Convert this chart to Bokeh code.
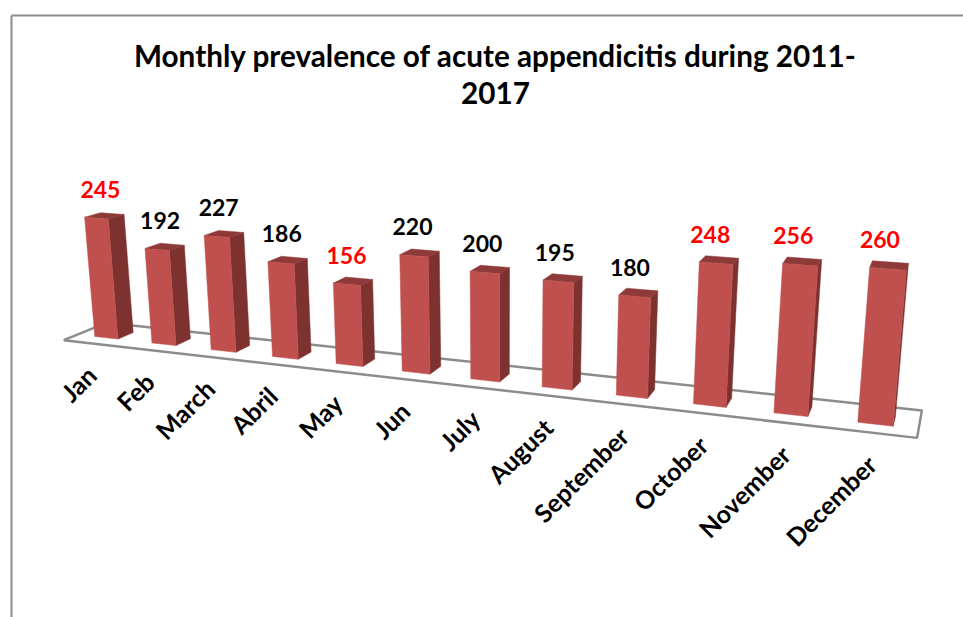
import numpy as np
from bokeh.plotting import figure
from bokeh.models import Range1d
from bokeh.core.properties import value
from bokeh.embed import file_html
from bokeh.resources import INLINE

title_lines = ["Monthly prevalence of acute appendicitis during 2011-", "2017"]
months = ["Jan", "Feb", "March", "Abril", "May", "Jun", "July", "August",
          "September", "October", "November", "December"]
counts = [245, 192, 227, 186, 156, 220, 200, 195, 180, 248, 256, 260]
red_months = ["Jan", "May", "October", "November", "December"]

# camera of the pseudo-3D chart: (category, value, depth) -> page pixels
CAM = np.array([[54.53, -0.05, 17.4, 94.3],
                [0.495, -0.5086, -0.696, 336.0],
                [-0.0173, -1e-4, 0.0174, 1.0]])

def pr(x, y, z):
    h = CAM @ np.array([x, y, z, 1.0])
    return h[0] / h[2], h[1] / h[2]

BAR = 0.41
FRONT = "#C0504D"
SIDE = "#7D3230"
TOP = "#8E3A38"
GREY = "#8C8C8C"
FONT = "Lato"

p = figure(width=963, height=617, x_range=Range1d(0, 963), y_range=Range1d(617, 0),
           x_axis_type=None, y_axis_type=None, toolbar_location=None,
           output_backend="svg", min_border=0, outline_line_color=None,
           background_fill_color="white", border_fill_color="white")
p.grid.visible = False

# chart frame
p.line([11, 11], [617, 15], line_color=GREY, line_width=2)
p.line([11, 963], [15, 15], line_color=GREY, line_width=2)

# floor
fx0, fx1, fz0, fz1 = -0.31, 11.70, -0.85, 1.9
corners = [pr(fx0, 0, fz0), pr(fx1, 0, fz0), pr(fx1, 0, fz1), pr(fx0, 0, fz1), pr(fx0, 0, fz0)]
p.line([c[0] for c in corners], [c[1] for c in corners], line_color=GREY, line_width=2.5)

# bars
def face(pts):
    return [q[0] for q in pts], [q[1] for q in pts]

fronts, sides, tops = ([], []), ([], []), ([], [])
for i, v in enumerate(counts):
    l, r = i, i + BAR
    for store, pts in (
        (sides, [pr(r, v, 0), pr(r, v, 1), pr(r, 0, 1), pr(r, 0, 0)]),
        (tops, [pr(l, v, 0), pr(r, v, 0), pr(r, v, 1), pr(l, v, 1)]),
        (fronts, [pr(l, v, 0), pr(r, v, 0), pr(r, 0, 0), pr(l, 0, 0)]),
    ):
        xs, ys = face(pts)
        store[0].append(xs)
        store[1].append(ys)

p.patches(sides[0], sides[1], fill_color=SIDE, line_color=SIDE, line_width=0.5)
p.patches(tops[0], tops[1], fill_color=TOP, line_color=TOP, line_width=0.5)
p.patches(fronts[0], fronts[1], fill_color=FRONT, line_color=FRONT, line_width=0.5)

# value labels
lab_x, lab_y, lab_t, lab_c = [], [], [], []
for i, (m, v) in enumerate(zip(months, counts)):
    x, y = pr(i + BAR / 2, v, 0)
    lab_x.append(x + 4 - 1.09 * i)
    lab_y.append(y - 29)
    lab_t.append(str(v))
    lab_c.append("#FF0000" if m in red_months else "#000000")
p.text(lab_x, lab_y, text=lab_t, text_color=lab_c, text_font=value(FONT), text_font_style="bold",
       text_font_size="23px", text_align="center", text_baseline="middle")

# category labels
cat_x, cat_y = [], []
for i in range(len(months)):
    x, y = pr(i + BAR / 2, 0, fz0)
    cat_x.append(x - 1.5)
    cat_y.append(y + 27)
p.text(cat_x, cat_y, text=months, angle=45, angle_units="deg", text_color="#000000",
       text_font=value(FONT), text_font_style="bold", text_font_size="25px",
       text_align="right", text_baseline="middle")

# title
p.text([495, 495], [55, 92], text=title_lines, text_color="#000000", text_font=value(FONT),
       text_font_style="bold", text_font_size="29.7px", text_align="center", text_baseline="middle")

open("out.html", "w").write(file_html(p, INLINE))
